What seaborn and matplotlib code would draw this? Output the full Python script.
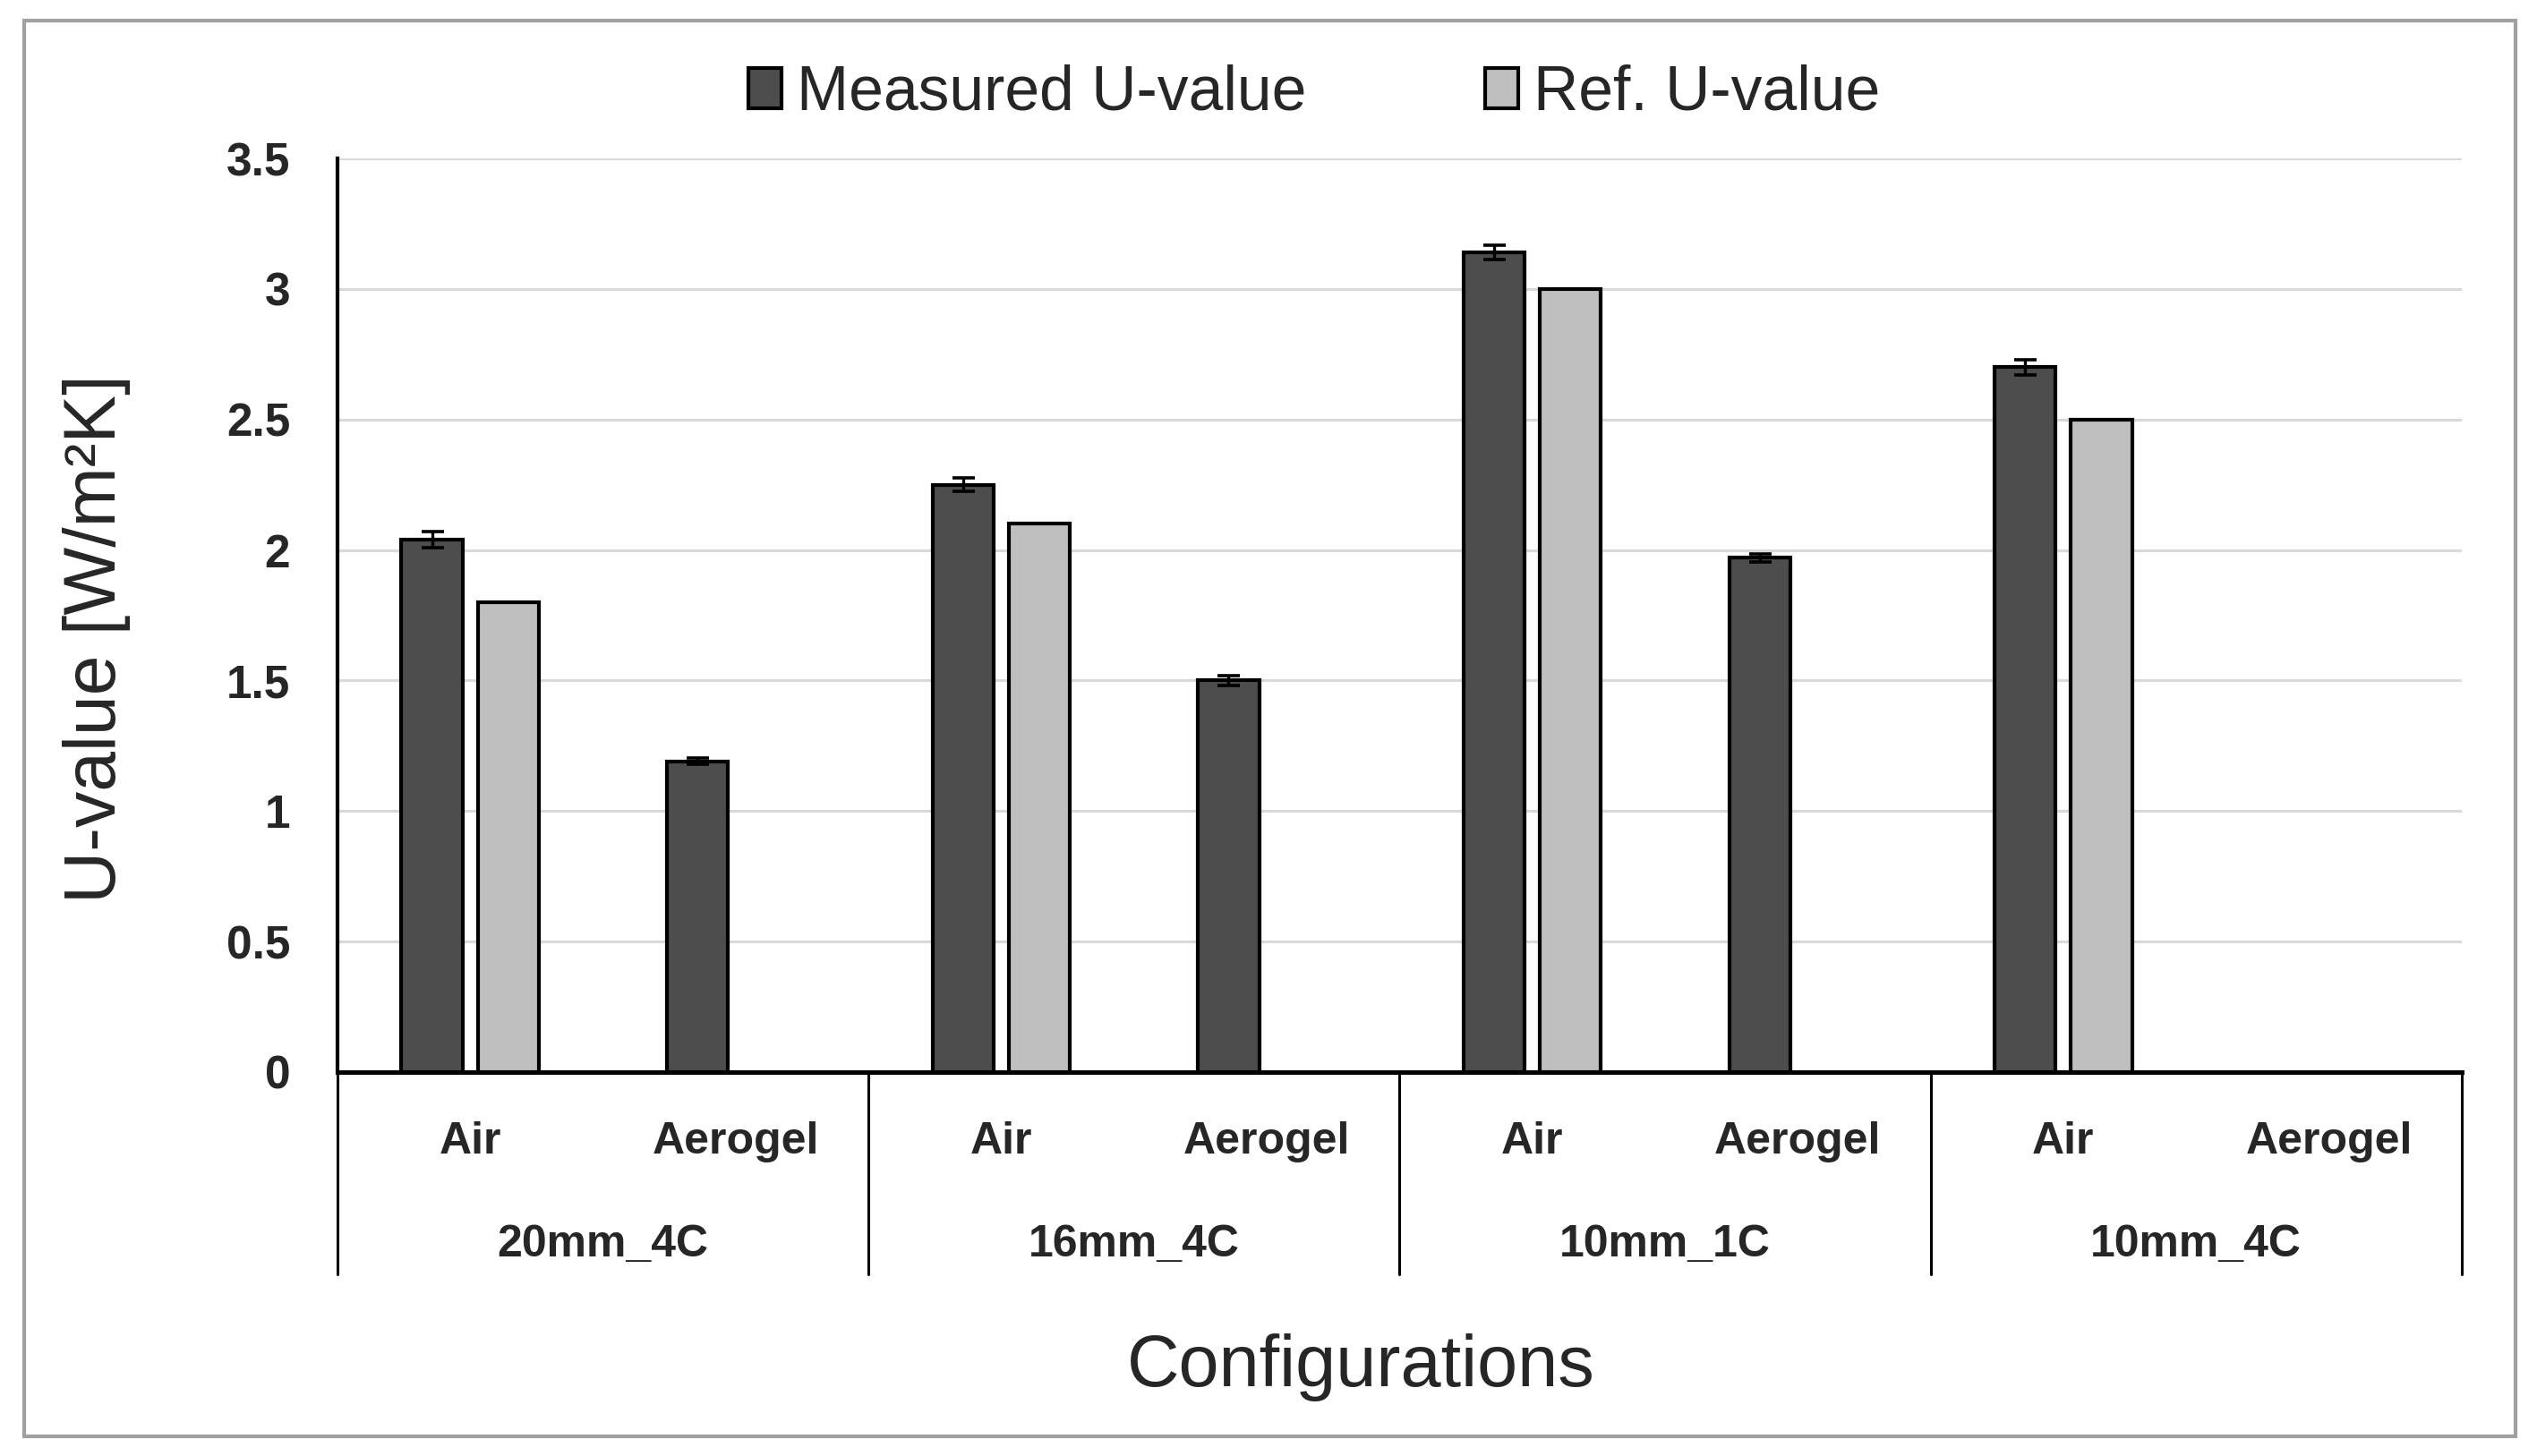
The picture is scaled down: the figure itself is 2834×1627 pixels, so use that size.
#!/usr/bin/env python3
"""Measured vs reference U-values for the glazing configurations."""

import matplotlib

matplotlib.use("Agg")
import matplotlib.pyplot as plt
import matplotlib.transforms as mtransforms
import numpy as np
import pandas as pd
import seaborn as sns
from matplotlib import font_manager
from matplotlib.patches import Rectangle
from matplotlib.ticker import FuncFormatter

GROUPS = ["20mm_4C", "16mm_4C", "10mm_1C", "10mm_4C"]
FILLS = ["Air", "Aerogel"]
SERIES = ["Measured U-value", "Ref. U-value"]
# one value per (group, fill), NaN where there is no bar
MEASURED = [2.04, 1.19, 2.25, 1.50, 3.14, 1.97, 2.70, np.nan]
MEASURED_ERR = [0.03, 0.012, 0.025, 0.02, 0.028, 0.015, 0.03, np.nan]
REFERENCE = [1.80, np.nan, 2.10, np.nan, 3.00, np.nan, 2.50, np.nan]
Y_TICKS = [0, 0.5, 1, 1.5, 2, 2.5, 3, 3.5]

COLOURS = {"Measured U-value": "#4d4d4d", "Ref. U-value": "#bfbfbf"}

sns.set_theme(style="white")
installed = {f.name for f in font_manager.fontManager.ttflist}
if "Liberation Sans Narrow" in installed:
    NARROW, NARROW_SCALE = "Liberation Sans Narrow", 1.0
else:
    NARROW, NARROW_SCALE = "Liberation Sans", 0.82
plt.rcParams["font.family"] = ["Liberation Sans", "DejaVu Sans"]


def main() -> None:
    keys = [f"{g} {f}" for g in GROUPS for f in FILLS]
    rows = []
    for key, m, r in zip(keys, MEASURED, REFERENCE):
        if not np.isnan(m):
            rows.append((key, SERIES[0], m))
        if not np.isnan(r):
            rows.append((key, SERIES[1], r))
    df = pd.DataFrame(rows, columns=["config", "series", "u"])

    fig = plt.figure(figsize=(14.17, 8.135), dpi=200)
    ax = fig.add_axes([0.1330, 0.2637, 0.8373, 0.6275])
    sns.barplot(
        data=df, x="config", y="u", hue="series", order=keys, hue_order=SERIES,
        palette=COLOURS, width=0.575, gap=0.2, edgecolor="black",
        linewidth=1.5, errorbar=None, ax=ax,
    )

    # error bars on the measured bars, placed from the drawn patches
    errs = [e for e in MEASURED_ERR if not np.isnan(e)]
    bars = ax.containers[0]
    xs = [p.get_x() + p.get_width() / 2 for p in bars]
    hs = [p.get_height() for p in bars]
    ax.errorbar(xs, hs, yerr=errs, fmt="none", ecolor="black",
                elinewidth=1.2, capsize=4.5, capthick=1.3, zorder=5)

    ax.set_xlim(-0.5, len(keys) - 0.5)
    ax.set_ylim(0, 3.5)
    ax.set_yticks(Y_TICKS)
    ax.yaxis.set_major_formatter(FuncFormatter(lambda v, _: f"{v:g}"))
    ax.set_xticks(range(len(keys)))
    ax.set_xticklabels(FILLS * len(GROUPS))
    ax.tick_params(axis="x", length=0, pad=19.7, labelsize=18)
    ax.tick_params(axis="y", length=0, pad=19, labelsize=18.5)
    for lab in ax.get_xticklabels() + ax.get_yticklabels():
        lab.set_fontweight("bold")

    ax.yaxis.grid(True, color="#d9d9d9", linewidth=1.1)
    ax.set_axisbelow(True)
    for side in ("top", "right"):
        ax.spines[side].set_visible(False)
    ax.spines["left"].set_linewidth(1.5)
    ax.spines["left"].set_color("black")
    ax.spines["bottom"].set_linewidth(1.8)
    ax.spines["bottom"].set_color("black")

    # group labels and separators under the axis
    trans = mtransforms.blended_transform_factory(ax.transData, ax.transAxes)
    for i in range(len(GROUPS) + 1):
        x = 2 * i - 0.5
        ax.plot([x, x], [0, -0.221], transform=trans, color="black",
                linewidth=1.1, clip_on=False)
    for i, g in enumerate(GROUPS):
        ax.text(2 * i + 0.5, -0.189, g, transform=trans, ha="center",
                va="center", fontsize=18, fontweight="bold")

    ax.set_ylabel("U-value [W/m²K]", fontsize=29)
    ax.yaxis.set_label_coords(-0.1134, 0.474)
    ax.yaxis.label.set_va("center")
    ax.set_xlabel("Configurations", fontsize=35.6 * NARROW_SCALE, family=NARROW)
    ax.xaxis.set_label_coords(0.482, -0.323)
    ax.xaxis.label.set_va("center")

    handles, labels = ax.get_legend_handles_labels()
    ax.get_legend().remove()
    for h in handles:
        h.set_edgecolor("black")
        h.set_linewidth(1.5)
    fig.legend(
        handles, labels, loc="center", bbox_to_anchor=(0.518, 0.9355), ncol=2,
        frameon=False, handlelength=0.53, handleheight=0.6,
        handletextpad=0.25, columnspacing=2.86,
        prop={"family": NARROW, "size": 30.6 * NARROW_SCALE},
    )

    # grey outer frame
    fig.patches.append(Rectangle(
        (27 / 2834, 1 - 1605 / 1627), (2810 - 27) / 2834, (1605 - 23) / 1627,
        transform=fig.transFigure, fill=False, edgecolor="#a0a0a0",
        linewidth=1.5,
    ))

    fig.savefig("out.png", dpi=200)


if __name__ == "__main__":
    main()
